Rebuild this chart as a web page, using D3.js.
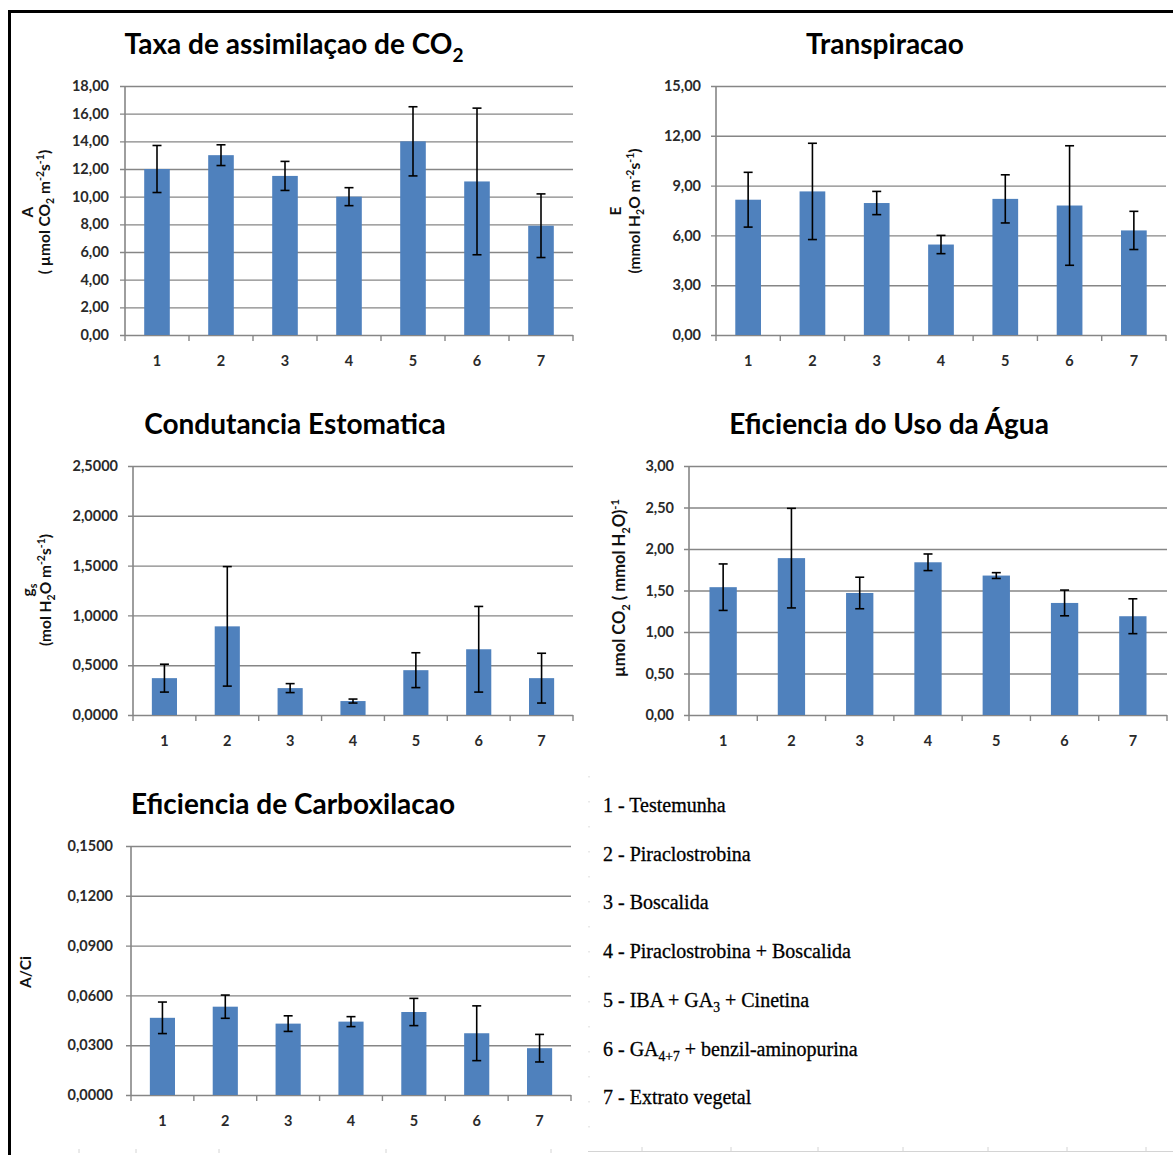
<!DOCTYPE html>
<html>
<head>
<meta charset="utf-8">
<script src="https://cdn.jsdelivr.net/npm/d3@7"></script>
<style>
  body { margin: 0; background: #fff; }
  svg { display: block; }
</style>
</head>
<body>
<svg id="chart" width="1173" height="1155"></svg>
<script>
// Treatments (x categories shared by all five panels)
const categories = ["1", "2", "3", "4", "5", "6", "7"];

// Taxa de assimilação de CO2 — A (µmol CO2 m-2 s-1)
const assimilacao    = [12.0, 13.0, 11.5, 10.0, 14.0, 11.1, 7.9];
const assimilacaoErr = [1.7, 0.75, 1.05, 0.65, 2.5, 5.3, 2.3];
const assimilacaoTicks = [0, 2, 4, 6, 8, 10, 12, 14, 16, 18];

// Transpiração — E (mmol H2O m-2 s-1)
const transpiracao    = [8.15, 8.65, 7.95, 5.45, 8.2, 7.8, 6.3];
const transpiracaoErr = [1.65, 2.9, 0.7, 0.55, 1.45, 3.6, 1.15];
const transpiracaoTicks = [0, 3, 6, 9, 12, 15];

// Condutância estomática — gs (mol H2O m-2 s-1)
const condutancia    = [0.37, 0.89, 0.27, 0.14, 0.45, 0.66, 0.37];
const condutanciaErr = [0.14, 0.6, 0.045, 0.02, 0.175, 0.43, 0.25];
const condutanciaTicks = [0, 0.5, 1.0, 1.5, 2.0, 2.5];

// Eficiência do uso da água — µmol CO2 (mmol H2O)-1
const usoAgua    = [1.54, 1.89, 1.47, 1.84, 1.68, 1.35, 1.19];
const usoAguaErr = [0.28, 0.6, 0.19, 0.1, 0.035, 0.155, 0.21];
const usoAguaTicks = [0, 0.5, 1.0, 1.5, 2.0, 2.5, 3.0];

// Eficiência de carboxilação — A/Ci
const carboxilacao    = [0.0465, 0.0532, 0.043, 0.0442, 0.05, 0.0372, 0.0282];
const carboxilacaoErr = [0.0095, 0.007, 0.0047, 0.003, 0.0082, 0.0165, 0.0083];
const carboxilacaoTicks = [0, 0.03, 0.06, 0.09, 0.12, 0.15];

// Treatment key (_{..} = subscript, ^{..} = superscript)
const legendItems = [
  "1 - Testemunha",
  "2 - Piraclostrobina",
  "3 - Boscalida",
  "4 - Piraclostrobina + Boscalida",
  "5 - IBA + GA_{3} + Cinetina",
  "6 - GA_{4+7} + benzil-aminopurina",
  "7 - Extrato vegetal"
];

const ptBR = d3.formatLocale({ decimal: ",", thousands: ".", grouping: [3], currency: ["R$", ""] });
const fmt2 = ptBR.format(".2f");
const fmt4 = ptBR.format(".4f");

const BAR = "#4f81bd";
const GRID = "#868686";
const SANS = "Lato, 'Open Sans', sans-serif";

const svg = d3.select("#chart");

// Writes text with _{sub} and ^{sup} runs as tspans
function richText(textSel, str, size) {
  const parts = str.split(/(_\{[^}]*\}|\^\{[^}]*\})/).filter(p => p.length);
  let offset = 0;
  parts.forEach(p => {
    let target = 0, s = size, t = p;
    if (p.startsWith("_{")) { target = size * 0.28; s = size * 0.68; t = p.slice(2, -1); }
    else if (p.startsWith("^{")) { target = -size * 0.38; s = size * 0.68; t = p.slice(2, -1); }
    textSel.append("tspan")
      .attr("dy", target - offset)
      .attr("font-size", s)
      .text(t);
    offset = target;
  });
}

const panels = [
  { title: "Taxa de assimilaçao de CO_{2}", values: assimilacao, errors: assimilacaoErr,
    ticks: assimilacaoTicks, max: 18, fmt: fmt2,
    yLabel: ["A", "( µmol CO_{2} m^{-2}s^{-1})"], labelX: [33, 50], labelY: 212, labelSize: 15.5,
    x0: 125, x1: 573, top: 86, bottom: 335, titleX: 294, titleY: 54, pad: 16 },
  { title: "Transpiracao", values: transpiracao, errors: transpiracaoErr,
    ticks: transpiracaoTicks, max: 15, fmt: fmt2,
    yLabel: ["E", "(mmol H_{2}O m^{-2}s^{-1})"], labelX: [621, 640], labelY: 211, labelSize: 15.5,
    x0: 716, x1: 1166, top: 86, bottom: 335, titleX: 885, titleY: 54, pad: 15 },
  { title: "Condutancia Estomatica", values: condutancia, errors: condutanciaErr,
    ticks: condutanciaTicks, max: 2.5, fmt: fmt4,
    yLabel: ["g_{s}", "(mol H_{2}O m^{-2}s^{-1})"], labelX: [33, 51], labelY: 590, labelSize: 15.5,
    x0: 133, x1: 573, top: 466, bottom: 715, titleX: 295, titleY: 434, pad: 15 },
  { title: "Eficiencia do Uso da Água", values: usoAgua, errors: usoAguaErr,
    ticks: usoAguaTicks, max: 3, fmt: fmt2,
    yLabel: ["µmol CO_{2} ( mmol H_{2}O)^{-1}"], labelX: [625], labelY: 588, labelSize: 16.5,
    x0: 689, x1: 1167, top: 466, bottom: 715, titleX: 889, titleY: 434, pad: 15 },
  { title: "Eficiencia de Carboxilacao", values: carboxilacao, errors: carboxilacaoErr,
    ticks: carboxilacaoTicks, max: 0.15, fmt: fmt4,
    yLabel: ["A/Ci"], labelX: [31], labelY: 972, labelSize: 15.5,
    x0: 131, x1: 571, top: 846, bottom: 1095, titleX: 293, titleY: 814, pad: 18 }
];

panels.forEach(p => {
  const g = svg.append("g");
  const w = p.x1 - p.x0;

  const slot = d3.scaleBand().domain(categories).range([p.x0, p.x1]).padding(0);
  const xb = d3.scaleBand().domain(categories).range([p.x0, p.x1])
    .paddingInner(0.6).paddingOuter(0.3);
  const y = d3.scaleLinear().domain([0, p.max]).range([p.bottom, p.top]);

  // gridlines (extend 5px left of the axis as tick marks)
  const grid = g.append("g")
    .attr("transform", `translate(${p.x0 - 5},0)`)
    .call(d3.axisLeft(y).tickValues(p.ticks).tickSize(-(w + 5)).tickFormat(""));
  grid.select(".domain").remove();
  grid.selectAll(".tick line").attr("stroke", GRID).attr("stroke-width", 1.4);

  // y tick labels
  const yl = g.append("g")
    .attr("transform", `translate(${p.x0},0)`)
    .call(d3.axisLeft(y).tickValues(p.ticks).tickSize(0).tickPadding(p.pad).tickFormat(p.fmt));
  yl.select(".domain").remove();
  yl.selectAll("text")
    .attr("font-family", SANS).attr("font-weight", 700)
    .attr("font-size", 14.5).attr("fill", "#2a2a2a");

  // vertical axis line
  g.append("line")
    .attr("x1", p.x0).attr("x2", p.x0)
    .attr("y1", y(p.max)).attr("y2", y(0))
    .attr("stroke", GRID).attr("stroke-width", 1.6);

  // category boundary tick marks on the x axis
  const bounds = categories.map(c => slot(c)).concat([slot.range()[1]]);
  g.selectAll(".xtick").data(bounds).join("line")
    .attr("x1", d => d).attr("x2", d => d)
    .attr("y1", y(0)).attr("y2", y(0) + 6)
    .attr("stroke", GRID).attr("stroke-width", 1.4);

  // x category labels
  const xl = g.append("g")
    .attr("transform", `translate(0,${y(0)})`)
    .call(d3.axisBottom(slot).tickSize(0).tickPadding(21));
  xl.select(".domain").remove();
  xl.selectAll("text")
    .attr("font-family", SANS).attr("font-weight", 700)
    .attr("font-size", 14.5).attr("fill", "#2a2a2a");

  // bars
  g.selectAll(".bar").data(p.values).join("rect")
    .attr("x", (d, i) => xb(categories[i]))
    .attr("width", xb.bandwidth())
    .attr("y", d => y(d))
    .attr("height", d => y(0) - y(d))
    .attr("fill", BAR);

  // error bars (mean ± error)
  const cx = i => xb(categories[i]) + xb.bandwidth() / 2;
  const eb = g.append("g").attr("stroke", "#000").attr("stroke-width", 1.6);
  p.values.forEach((v, i) => {
    const e = p.errors[i];
    eb.append("line").attr("x1", cx(i)).attr("x2", cx(i)).attr("y1", y(v + e)).attr("y2", y(v - e));
    eb.append("line").attr("x1", cx(i) - 4.5).attr("x2", cx(i) + 4.5).attr("y1", y(v + e)).attr("y2", y(v + e));
    eb.append("line").attr("x1", cx(i) - 4.5).attr("x2", cx(i) + 4.5).attr("y1", y(v - e)).attr("y2", y(v - e));
  });

  // panel title
  const t = g.append("text")
    .attr("x", p.titleX).attr("y", p.titleY)
    .attr("text-anchor", "middle")
    .attr("font-family", SANS).attr("font-weight", 700)
    .attr("font-size", 28).attr("fill", "#000");
  richText(t, p.title, 28);

  // rotated y-axis title lines
  p.yLabel.forEach((line, k) => {
    const lt = g.append("text")
      .attr("transform", `translate(${p.labelX[k]},${p.labelY}) rotate(-90)`)
      .attr("text-anchor", "middle")
      .attr("dy", "0.35em")
      .attr("font-family", SANS).attr("font-weight", 700)
      .attr("font-size", p.labelSize).attr("fill", "#111");
    richText(lt, line, p.labelSize);
  });
});

// treatment key
const lg = svg.append("g").attr("font-family", "'Liberation Serif', 'Times New Roman', serif")
  .attr("font-size", 20).attr("fill", "#000")
  .attr("stroke", "#000").attr("stroke-width", 0.3);
legendItems.forEach((item, i) => {
  const t = lg.append("text").attr("x", 603).attr("y", 812 + i * 48.7);
  richText(t, item, 20);
});

// faint page-layout guides around the key
const guide = svg.append("g").attr("stroke", "#d4d4d4").attr("stroke-width", 1);
guide.append("line").attr("x1", 588).attr("x2", 1173).attr("y1", 1151.5).attr("y2", 1151.5);
[642, 731, 818, 903, 988, 1067, 1146].forEach(x =>
  guide.append("line").attr("x1", x).attr("x2", x).attr("y1", 1147).attr("y2", 1151.5));
[79, 136, 219, 386, 551].forEach(x =>
  guide.append("line").attr("x1", x).attr("x2", x).attr("y1", 1149).attr("y2", 1153));
d3.range(776, 1145, 25).forEach(yy =>
  guide.append("line").attr("x1", 589).attr("x2", 589).attr("y1", yy).attr("y2", yy + 1.5));

// page frame (top and left edges)
svg.append("path")
  .attr("d", "M9.5,1155 V11.5 H1173")
  .attr("fill", "none").attr("stroke", "#000").attr("stroke-width", 3);
</script>
</body>
</html>
